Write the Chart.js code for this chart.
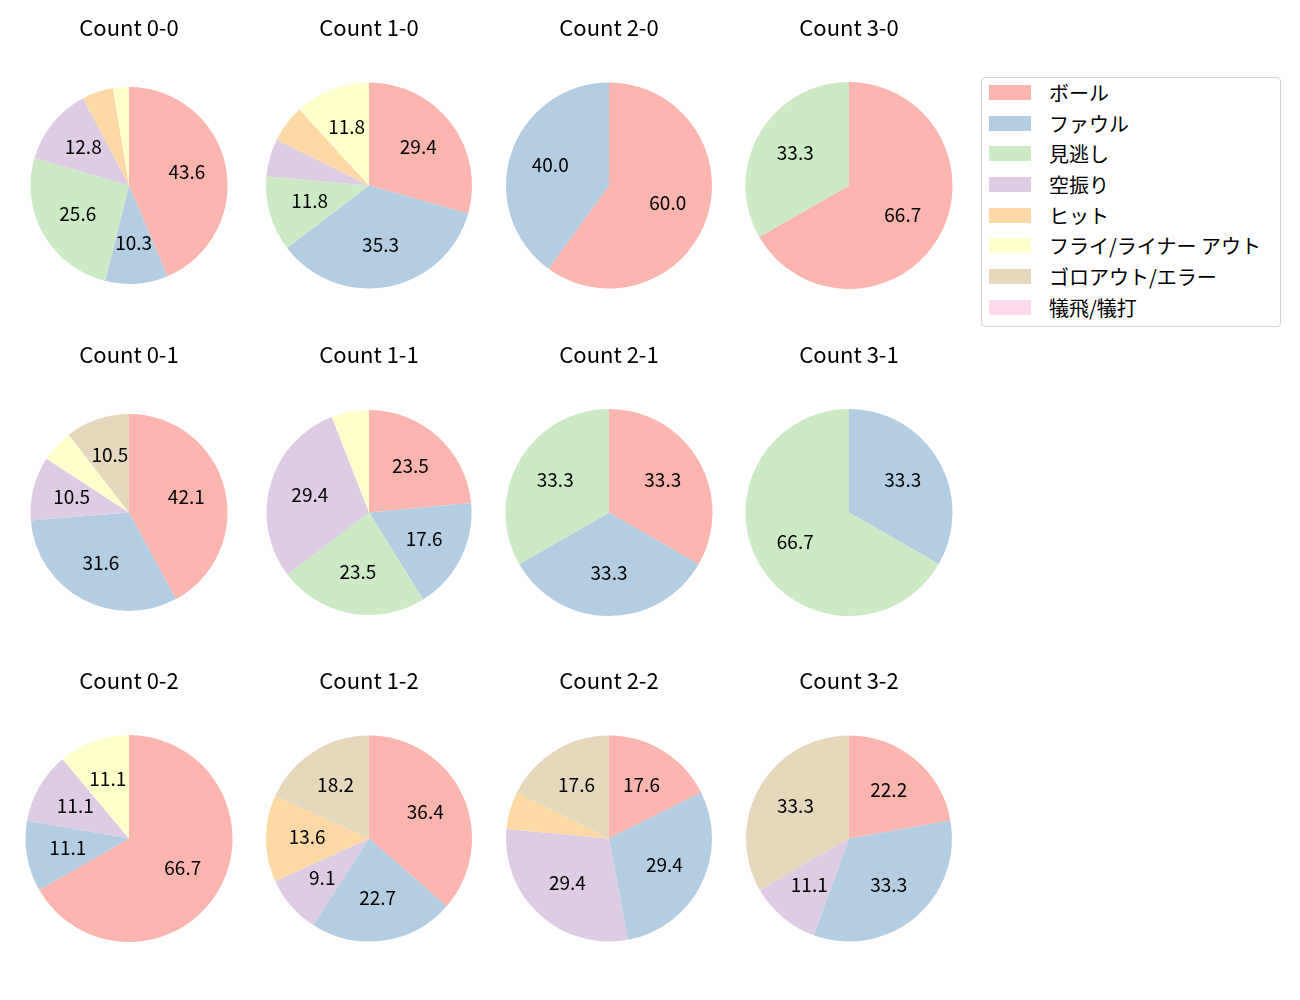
<!DOCTYPE html>
<html>
<head>
<meta charset="utf-8">
<script src="https://cdn.jsdelivr.net/npm/chart.js@4.4.1/dist/chart.umd.min.js"></script>
<style>
  body { margin: 0; background: #fff; font-family: "Noto Sans CJK JP", sans-serif; }
  #wrap { position: relative; width: 1300px; height: 1000px; }
  canvas { position: absolute; }
  #legend {
    position: absolute; left: 981px; top: 77px; width: 298px; height: 248px;
    border: 1px solid #d4d4d4; border-radius: 4px; background: #fff;
  }
  .item { position: absolute; left: 0; height: 20px; width: 298px; }
  .item .box { position: absolute; left: 7px; top: 2px; width: 42px; height: 15px; }
  .item .txt { position: absolute; left: 67px; top: -5px; font-size: 20px; color: #000; white-space: nowrap; }
</style>
</head>
<body>
<div id="wrap">
  <div id="legend"></div>
</div>
<script>
var categories = ['ボール', 'ファウル', '見逃し', '空振り', 'ヒット', 'フライ/ライナー アウト', 'ゴロアウト/エラー', '犠飛/犠打'];
var colors = ['#fbb4ae', '#b3cde3', '#ccebc5', '#decbe4', '#fed9a6', '#ffffcc', '#e5d8bd', '#fddaec'];

// percentages per count (balls-strikes), in category order
var pct00 = [43.6, 10.3, 25.6, 12.8, 5.1, 2.6, 0, 0];
var pct10 = [29.4, 35.3, 11.8, 5.9, 5.9, 11.8, 0, 0];
var pct20 = [60.0, 40.0, 0, 0, 0, 0, 0, 0];
var pct30 = [66.7, 0, 33.3, 0, 0, 0, 0, 0];
var pct01 = [42.1, 31.6, 0, 10.5, 0, 5.3, 10.5, 0];
var pct11 = [23.5, 17.6, 23.5, 29.4, 0, 5.9, 0, 0];
var pct21 = [33.3, 33.3, 33.3, 0, 0, 0, 0, 0];
var pct31 = [0, 33.3, 66.7, 0, 0, 0, 0, 0];
var pct02 = [66.7, 11.1, 0, 11.1, 0, 11.1, 0, 0];
var pct12 = [36.4, 22.7, 0, 9.1, 13.6, 0, 18.2, 0];
var pct22 = [17.6, 29.4, 0, 29.4, 5.9, 0, 17.6, 0];
var pct32 = [22.2, 33.3, 0, 11.1, 0, 0, 33.3, 0];

var counts = [
    ['Count 0-0', pct00], ['Count 1-0', pct10], ['Count 2-0', pct20], ['Count 3-0', pct30],
    ['Count 0-1', pct01], ['Count 1-1', pct11], ['Count 2-1', pct21], ['Count 3-1', pct31],
    ['Count 0-2', pct02], ['Count 1-2', pct12], ['Count 2-2', pct22], ['Count 3-2', pct32]
];

// layout
var colCenter = [129, 369, 609, 849];
var rowTop = [0, 327, 653];
var radii = [98.5, 103, 103, 103.5, 98.5, 102.5, 103.5, 103.5, 103.5, 103, 103, 103];

const pctLabels = {
    id: 'pctLabels',
    afterDatasetsDraw(chart) {
        var ctx = chart.ctx;
        var meta = chart.getDatasetMeta(0);
        var values = chart.data.datasets[0].data;
        ctx.save();
        ctx.font = '19px "Noto Sans CJK JP"';
        ctx.fillStyle = '#000';
        ctx.textAlign = 'center';
        ctx.textBaseline = 'middle';
        meta.data.forEach(function(arc, i) {
            if (values[i] < 7) return;
            var mid = (arc.startAngle + arc.endAngle) / 2;
            var r = arc.outerRadius * 0.6;
            ctx.fillText(values[i].toFixed(1), arc.x + r * Math.cos(mid), arc.y + r * Math.sin(mid) - 1.5);
        });
        ctx.restore();
    }
};

var wrap = document.getElementById('wrap');

counts.forEach(function(c, k) {
    var canvas = document.createElement('canvas');
    canvas.width = 240;
    canvas.height = 310;
    canvas.style.left = (colCenter[k % 4] - 120) + 'px';
    canvas.style.top = rowTop[Math.floor(k / 4)] + 'px';
    wrap.appendChild(canvas);

    new Chart(canvas, {
        type: 'pie',
        data: {
            labels: categories,
            datasets: [{
                data: c[1],
                backgroundColor: colors,
                borderWidth: 0,
                hoverOffset: 0
            }]
        },
        options: {
            responsive: false,
            animation: false,
            radius: radii[k],
            layout: { padding: 0 },
            plugins: {
                legend: { display: false },
                tooltip: { enabled: false },
                title: {
                    display: true,
                    text: c[0],
                    color: '#000',
                    font: { family: '"Noto Sans CJK JP"', size: 22, weight: 'normal', lineHeight: 1.2 },
                    padding: { top: 14, bottom: 20.6 }
                }
            }
        },
        plugins: [pctLabels]
    });
});

var legend = document.getElementById('legend');
categories.forEach(function(name, i) {
    var row = document.createElement('div');
    row.className = 'item';
    row.style.top = (4.8 + i * 30.7) + 'px';
    row.innerHTML = '<div class="box" style="background:' + colors[i] + '"></div><div class="txt">' + name + '</div>';
    legend.appendChild(row);
});
</script>
</body>
</html>
